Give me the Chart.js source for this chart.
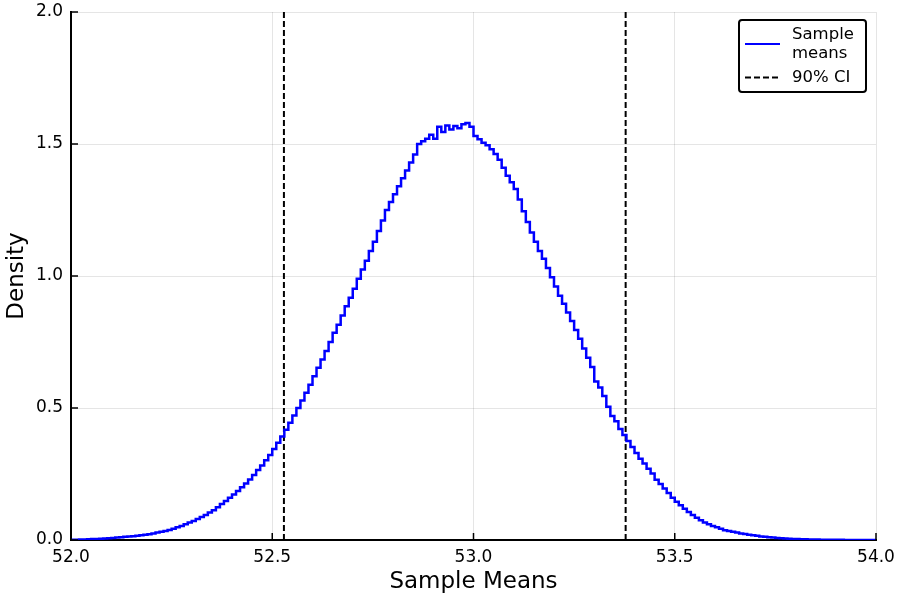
<!DOCTYPE html>
<html>
<head>
<meta charset="utf-8">
<script src="https://cdn.jsdelivr.net/npm/chart.js@4/dist/chart.umd.min.js"></script>
<style>
  html, body { margin: 0; padding: 0; background: #fff; }
  #wrap { width: 900px; height: 600px; }
</style>
</head>
<body>
<div id="wrap"><canvas id="chart-sample_means"></canvas></div>
<script>
// Histogram bins (left edge of first bin, bin width)
let binStart = 52.0;
let binWidth = 0.01;

// Density per bin, rows of 10 bins (52.00 .. 53.99)
let density = [
  0.000, 0.001, 0.001, 0.002, 0.002, 0.003, 0.004, 0.004, 0.005, 0.006,
  0.007, 0.008, 0.009, 0.010, 0.012, 0.013, 0.014, 0.016, 0.018, 0.020,
  0.022, 0.025, 0.028, 0.031, 0.034, 0.038, 0.043, 0.048, 0.053, 0.060,
  0.066, 0.072, 0.080, 0.087, 0.095, 0.104, 0.113, 0.124, 0.136, 0.148,
  0.160, 0.172, 0.186, 0.200, 0.214, 0.229, 0.246, 0.265, 0.282, 0.302,
  0.322, 0.345, 0.368, 0.392, 0.418, 0.444, 0.472, 0.500, 0.528, 0.558,
  0.588, 0.620, 0.652, 0.684, 0.716, 0.750, 0.785, 0.815, 0.850, 0.885,
  0.918, 0.952, 0.990, 1.025, 1.058, 1.095, 1.130, 1.170, 1.210, 1.250,
  1.280, 1.310, 1.340, 1.370, 1.400, 1.430, 1.460, 1.500, 1.510, 1.520,
  1.535, 1.520, 1.565, 1.545, 1.570, 1.555, 1.568, 1.560, 1.575, 1.580,
  1.565, 1.530, 1.518, 1.505, 1.495, 1.480, 1.462, 1.440, 1.410, 1.380,
  1.355, 1.330, 1.290, 1.245, 1.205, 1.165, 1.130, 1.095, 1.065, 1.030,
  0.995, 0.960, 0.925, 0.895, 0.862, 0.830, 0.795, 0.762, 0.725, 0.690,
  0.655, 0.600, 0.578, 0.545, 0.505, 0.470, 0.450, 0.420, 0.398, 0.375,
  0.352, 0.330, 0.308, 0.290, 0.270, 0.252, 0.228, 0.212, 0.195, 0.178,
  0.160, 0.145, 0.132, 0.118, 0.106, 0.095, 0.084, 0.075, 0.066, 0.060,
  0.053, 0.048, 0.043, 0.037, 0.034, 0.031, 0.028, 0.025, 0.023, 0.020,
  0.018, 0.016, 0.013, 0.012, 0.010, 0.009, 0.008, 0.007, 0.006, 0.005,
  0.004, 0.004, 0.003, 0.003, 0.002, 0.002, 0.002, 0.001, 0.001, 0.001,
  0.001, 0.001, 0.001, 0.000, 0.000, 0.000, 0.000, 0.000, 0.000, 0.000
];

// 90% confidence interval bounds
let ciBounds = [52.529, 53.378];

// Axis ticks
let xTicks = [52.0, 52.5, 53.0, 53.5, 54.0];
let yTicks = [0.0, 0.5, 1.0, 1.5, 2.0];

let seriesLabels = ['Sample\nmeans', '90% CI'];

// Step points: left edge of every bin + closing right edge
let histPoints = density.map((d, i) => ({ x: binStart + i * binWidth, y: d }));
histPoints.push({ x: binStart + density.length * binWidth, y: density[density.length - 1] });

let yTop = yTicks[yTicks.length - 1];
let ciPoints = [
  { x: ciBounds[0], y: 0 }, { x: ciBounds[0], y: yTop },
  { x: (ciBounds[0] + ciBounds[1]) / 2, y: null },
  { x: ciBounds[1], y: 0 }, { x: ciBounds[1], y: yTop }
];

const FONT = 'DejaVu Sans';

// Small tick marks drawn inside the plot frame
const innerTicks = {
  id: 'innerTicks',
  afterDatasetsDraw(chart) {
    const { ctx, chartArea, scales } = chart;
    ctx.save();
    ctx.strokeStyle = '#000';
    ctx.lineWidth = 1.5;
    ctx.beginPath();
    xTicks.forEach(v => {
      let px = scales.x.getPixelForValue(v);
      ctx.moveTo(px, chartArea.bottom);
      ctx.lineTo(px, chartArea.bottom - 7);
    });
    yTicks.forEach(v => {
      let py = scales.y.getPixelForValue(v);
      ctx.moveTo(chartArea.left, py);
      ctx.lineTo(chartArea.left + 7, py);
    });
    ctx.stroke();
    ctx.restore();
  }
};

// Boxed legend in the top right corner of the plot
const legendBox = {
  id: 'legendBox',
  afterDraw(chart) {
    const { ctx, chartArea } = chart;
    let w = 127, h = 72;
    let x = chartArea.right - 137, y = chartArea.top + 8;
    ctx.save();
    ctx.fillStyle = '#fff';
    ctx.strokeStyle = '#000';
    ctx.lineWidth = 2;
    ctx.beginPath();
    ctx.roundRect(x, y, w, h, 3);
    ctx.fill();
    ctx.stroke();

    ctx.font = '16.5px "' + FONT + '"';
    ctx.textBaseline = 'middle';
    ctx.fillStyle = '#000';
    let rowY = [y + 24, y + 57.5];
    chart.data.datasets.forEach((ds, i) => {
      let lines = ds.label.split('\n');
      ctx.strokeStyle = ds.borderColor;
      ctx.lineWidth = 2;
      ctx.setLineDash(ds.borderDash || []);
      ctx.beginPath();
      ctx.moveTo(x + 6, rowY[i]);
      ctx.lineTo(x + 41, rowY[i]);
      ctx.stroke();
      ctx.setLineDash([]);
      lines.forEach((t, j) => {
        let off = (j - (lines.length - 1) / 2) * 18.5;
        ctx.fillText(t, x + 53, rowY[i] + off);
      });
    });
    ctx.restore();
  }
};

let ctx = document.getElementById('chart-sample_means').getContext('2d');

let chart = new Chart(ctx, {
  type: 'line',
  data: {
    datasets: [
      {
        label: seriesLabels[0],
        data: histPoints,
        stepped: 'after',
        borderColor: '#0000ff',
        borderWidth: 2.5,
        pointRadius: 0,
        fill: false
      },
      {
        label: seriesLabels[1],
        data: ciPoints,
        borderColor: '#000000',
        borderWidth: 2,
        borderDash: [6, 3],
        pointRadius: 0,
        spanGaps: false,
        fill: false
      }
    ]
  },
  options: {
    responsive: true,
    maintainAspectRatio: false,
    animation: false,
    layout: { padding: { top: 12, right: 24, left: 0, bottom: 0 } },
    plugins: {
      legend: { display: false },
      tooltip: { enabled: false }
    },
    scales: {
      x: {
        type: 'linear',
        min: xTicks[0],
        max: xTicks[xTicks.length - 1],
        afterBuildTicks: (s) => { s.ticks = xTicks.map(v => ({ value: v })); },
        afterFit: (s) => { s.height = 60; s.paddingLeft = 0; s.paddingRight = 0; },
        ticks: {
          padding: 7,
          maxRotation: 0,
          color: '#000',
          font: { family: FONT, size: 17 },
          callback: (v) => Number(v).toFixed(1)
        },
        grid: { color: 'rgba(0,0,0,0.1)', lineWidth: 1, drawTicks: false },
        border: { color: '#000', width: 2 },
        title: {
          display: true,
          text: 'Sample Means',
          color: '#000',
          font: { family: FONT, size: 23 },
          padding: { top: 0, bottom: 4 }
        }
      },
      y: {
        min: yTicks[0],
        max: yTicks[yTicks.length - 1],
        afterBuildTicks: (s) => { s.ticks = yTicks.map(v => ({ value: v })); },
        afterFit: (s) => { s.width = 71; s.paddingTop = 0; s.paddingBottom = 0; },
        ticks: {
          padding: 8,
          color: '#000',
          font: { family: FONT, size: 17 },
          callback: (v) => Number(v).toFixed(1)
        },
        grid: { color: 'rgba(0,0,0,0.1)', lineWidth: 1, drawTicks: false },
        border: { color: '#000', width: 2 },
        title: {
          display: true,
          text: 'Density',
          color: '#000',
          font: { family: FONT, size: 23 },
          padding: { top: 3, bottom: 0 }
        }
      }
    }
  },
  plugins: [innerTicks, legendBox]
});
</script>
</body>
</html>
